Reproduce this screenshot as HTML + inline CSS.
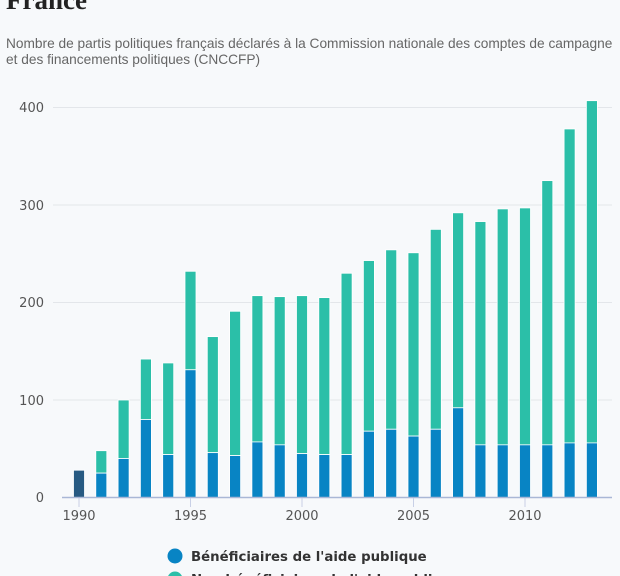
<!DOCTYPE html>
<html><head><meta charset="utf-8"><style>
html,body{margin:0;padding:0;background:#f7f9fb;width:620px;height:576px;overflow:hidden}
</style></head><body>
<svg width="620" height="576" xmlns="http://www.w3.org/2000/svg" font-family="Liberation Sans, sans-serif">
<rect width="620" height="576" fill="#f7f9fb"/>
<text x="6" y="9" font-family="Liberation Serif, serif" font-weight="bold" font-size="27" fill="#222">France</text>
<text x="6" y="48" font-size="13.7" fill="#666">Nombre de partis politiques français déclarés à la Commission nationale des comptes de campagne</text>
<text x="6" y="64" font-size="13.7" fill="#666">et des financements politiques (CNCCFP)</text>
<g stroke="#e3e6ea" stroke-width="1">
<line x1="53" x2="612" y1="107.5" y2="107.5"/>
<line x1="53" x2="612" y1="205" y2="205"/>
<line x1="53" x2="612" y1="302.5" y2="302.5"/>
<line x1="53" x2="612" y1="400" y2="400"/>
</g>
<g font-size="13" fill="#555" text-anchor="end" font-family="DejaVu Sans, sans-serif">
<text x="44" y="112">400</text><text x="44" y="210">300</text><text x="44" y="307">200</text><text x="44" y="405">100</text><text x="44" y="502">0</text>
</g>
<g id="bars" stroke="#fff" stroke-width="0.8"></g>
<line x1="62" x2="612" y1="497.5" y2="497.5" stroke="#a9b7d6" stroke-width="1.5"/>
<g stroke="#c8d0e6"><line x1="79" x2="79" y1="498" y2="507"/><line x1="190.5" x2="190.5" y1="498" y2="507"/><line x1="302" x2="302" y1="498" y2="507"/><line x1="413.5" x2="413.5" y1="498" y2="507"/><line x1="525" x2="525" y1="498" y2="507"/></g>
<g font-size="13" fill="#555" text-anchor="middle" font-family="DejaVu Sans, sans-serif">
<text x="79" y="520">1990</text><text x="190.5" y="520">1995</text><text x="302" y="520">2000</text><text x="413.5" y="520">2005</text><text x="525" y="520">2010</text>
</g>
<circle cx="175" cy="556" r="7.5" fill="#0884c4"/>
<text x="191" y="561" font-family="DejaVu Sans, sans-serif" font-weight="bold" font-size="13.3" fill="#333">Bénéficiaires de l'aide publique</text>
<circle cx="175" cy="579" r="7.5" fill="#2bbfa8"/>
<text x="191" y="584" font-family="DejaVu Sans, sans-serif" font-weight="bold" font-size="13.3" fill="#333">Non bénéficiaires de l'aide publique</text>
</svg>
<script>
var t=[28,48,100,142,138,232,165,191,207,206,207,205,230,243,254,251,275,292,283,296,297,325,378,407];
var b=[28,25,40,80,44,131,46,43,57,54,45,44,44,68,70,63,70,92,54,54,54,54,56,56];
var g=document.getElementById('bars'),s='';
for(var i=0;i<t.length;i++){var cx=79+i*22.3,x=cx-5.5,y0=497.5,k=0.975;
if(i==0){s+='<rect x="'+x+'" y="'+(y0-t[i]*k)+'" width="11" height="'+t[i]*k+'" fill="#275a82"/>';continue;}
s+='<rect x="'+x+'" y="'+(y0-t[i]*k)+'" width="11" height="'+(t[i]-b[i])*k+'" fill="#2bbfa8"/>';
s+='<rect x="'+x+'" y="'+(y0-b[i]*k)+'" width="11" height="'+b[i]*k+'" fill="#0884c4"/>';}
g.innerHTML=s;
</script>
</body></html>
